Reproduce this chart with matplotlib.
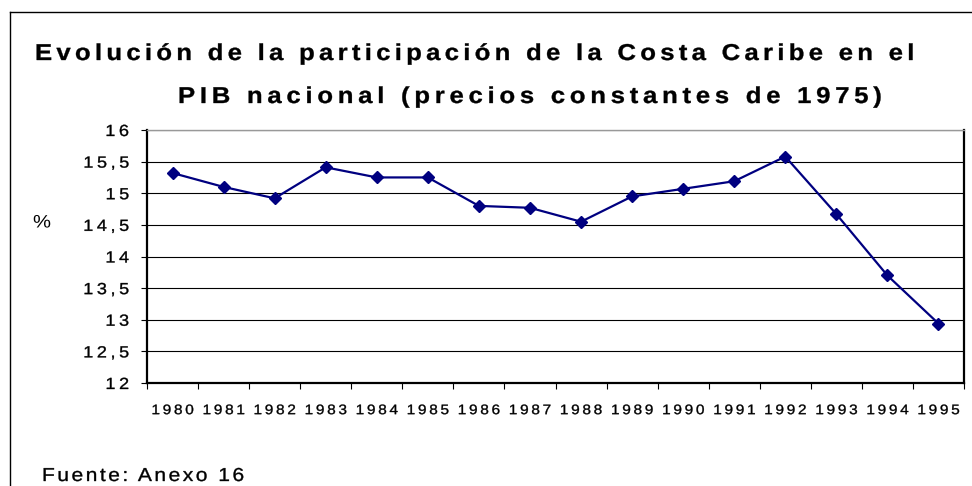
import matplotlib
matplotlib.use("Agg")
import numpy as np
import matplotlib.pyplot as plt
from matplotlib.lines import Line2D
from matplotlib.path import Path
from matplotlib.patheffects import AbstractPathEffect

years = ["1980", "1981", "1982", "1983", "1984", "1985", "1986", "1987",
         "1988", "1989", "1990", "1991", "1992", "1993", "1994", "1995"]
share = [15.32, 15.10, 14.92, 15.41, 15.25, 15.25, 14.80, 14.77,
         14.55, 14.95, 15.07, 15.19, 15.58, 14.67, 13.70, 12.94]
y_ticks = [12, 12.5, 13, 13.5, 14, 14.5, 15, 15.5, 16]
y_labels = ["12", "12,5", "13", "13,5", "14", "14,5", "15", "15,5", "16"]

title1 = "Evolución de la participación de la Costa Caribe en el"
title2 = "PIB nacional (precios constantes de 1975)"
source = "Fuente: Anexo 16"
y_unit = "%"

plt.rcParams['font.family'] = ['Liberation Sans', 'DejaVu Sans']

XS = 1.12  # horizontal glyph widening, as in the source rendering


class Tracking(AbstractPathEffect):
    """Draws a Text with extra letter spacing (px), widened glyphs and a
    slight stroke to mimic the heavier original rendering."""

    def __init__(self, text_artist, spacing_px, frac, xs=XS, stroke_px=0.35):
        super().__init__()
        self.t = text_artist
        self.sp = spacing_px
        self.frac = frac
        self.xs = xs
        self.stroke = stroke_px

    def draw_path(self, renderer, gc, tpath, affine, rgbFace=None):
        try:
            s = self.t.get_text()
            prop = self.t.get_fontproperties()
            t2p = renderer._text2path
            font = t2p._get_font(prop)
            getter = getattr(t2p, "get_glyphs_with_font", None) or \
                getattr(t2p, "_get_glyphs_with_font")
            glyph_info, glyph_map, rects = getter(font, s)
            glyph_info = list(glyph_info)
            fs_px = renderer.points_to_pixels(prop.get_size_in_points())
            sp = self.sp * t2p.FONT_SCALE / fs_px
            n = len(glyph_info)
            w0 = tpath.vertices[:, 0].max() if len(tpath.vertices) else 0.0
            shift = self.frac * (w0 * (self.xs - 1) + sp * (n - 1))
            verts, codes = [], []
            for i, (gid, xp, yp, sc) in enumerate(glyph_info):
                v1, c1 = glyph_map[gid]
                v1 = np.asarray(v1, dtype=float)
                if len(v1) == 0:
                    continue
                v = v1 * sc
                v[:, 0] = v[:, 0] * self.xs + xp * self.xs + i * sp - shift
                v[:, 1] = v[:, 1] + yp
                verts.append(v)
                codes.append(np.asarray(c1))
            if not verts:
                return
            path = Path(np.concatenate(verts), np.concatenate(codes))
            gc0 = renderer.new_gc()
            gc0.copy_properties(gc)
            if self.stroke > 0 and rgbFace is not None:
                gc0.set_linewidth(self.stroke * 72.0 / renderer.dpi)
                gc0.set_foreground(rgbFace)
            renderer.draw_path(gc0, path, affine, rgbFace)
            gc0.restore()
        except Exception:
            renderer.draw_path(gc, tpath, affine, rgbFace)


W, H = 972, 486
fig = plt.figure(figsize=(W / 100, H / 100), dpi=100)
fig.patch.set_facecolor("white")

ax = fig.add_axes([147 / W, 1 - 383 / H, (964 - 147) / W, (383 - 130) / H])

x = list(range(len(years)))
ax.plot(x, share, color="#000080", lw=1.6, marker="D", markersize=6.5,
        markerfacecolor="#000080", markeredgecolor="#000080", zorder=3)

ax.set_xlim(-0.5, len(years) - 0.5)
ax.set_ylim(12, 16)

for v in y_ticks:
    ax.axhline(v, color="black", lw=0.8, zorder=1)

ax.set_yticks(y_ticks)
ax.set_yticklabels(y_labels, fontsize=11.6)
ax.tick_params(axis="y", direction="out", length=4.3, width=0.8, pad=8.6)

ax.set_xticks([i - 0.5 for i in range(len(years) + 1)])
ax.set_xticklabels([])
ax.tick_params(axis="x", which="major", direction="out", length=4.3, width=0.8)
ax.set_xticks(x, minor=True)
ax.set_xticklabels(years, minor=True, fontsize=9.9)
ax.tick_params(axis="x", which="minor", length=0, pad=14.5)

for side in ["left", "bottom", "right"]:
    ax.spines[side].set_linewidth(1.6)
    ax.spines[side].set_color("black")
ax.spines["top"].set_linewidth(1.0)
ax.spines["top"].set_color("#999999")

for lab in ax.get_yticklabels():
    lab.set_path_effects([Tracking(lab, 3.6, 1.0)])
for lab in ax.get_xticklabels(minor=True):
    lab.set_path_effects([Tracking(lab, 2.7, 0.5)])

tp = fig.text(33 / W, 1 - 223 / H, y_unit, fontsize=13, ha="left", va="center")
tp.set_path_effects([Tracking(tp, 0.0, 0.0, stroke_px=0.0)])

t1 = fig.text(35 / W, 1 - 60 / H, title1, fontsize=16.5, fontweight="bold",
              ha="left", va="baseline")
t2 = fig.text(178 / W, 1 - 103 / H, title2, fontsize=16.5, fontweight="bold",
              ha="left", va="baseline")
t3 = fig.text(42 / W, 1 - 481 / H, source, fontsize=13.5, ha="left", va="baseline")

renderer = fig.canvas.get_renderer()
for t, left, right in [(t1, 35, 912), (t2, 178, 880), (t3, 42, 244)]:
    nat = t.get_window_extent(renderer).width
    n = len(t.get_text())
    sp = (right - left - nat * XS) / (n - 1)
    t.set_path_effects([Tracking(t, sp, 0.0)])

# outer chart border (open to the right and bottom, as in the source)
fig.add_artist(Line2D([10 / W, 10 / W], [0, 1 - 12 / H], transform=fig.transFigure,
                      color="black", lw=1.0))
fig.add_artist(Line2D([10 / W, 1], [1 - 12 / H, 1 - 12 / H], transform=fig.transFigure,
                      color="black", lw=1.0))

fig.savefig("out.png", dpi=100)
